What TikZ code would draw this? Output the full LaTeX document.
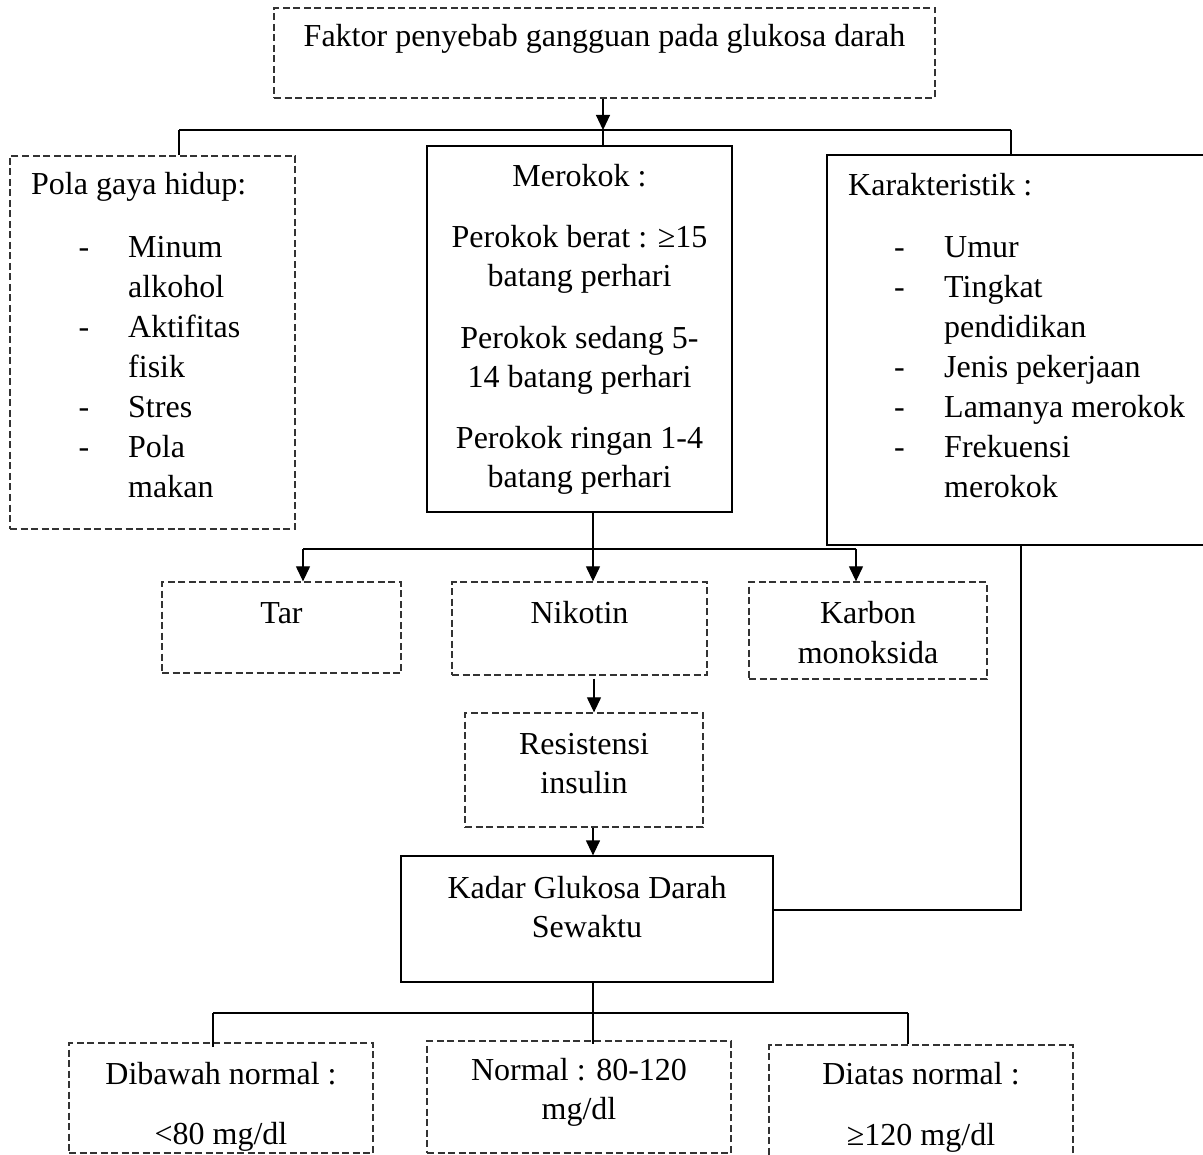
\documentclass[tikz,border=0pt]{standalone}
\usepackage{fontspec}
\setmainfont{Liberation Serif}
\usetikzlibrary{arrows.meta}
\newcommand{\mybox}[6]{\node[#2, minimum width={(#5-#3)*1pt}, minimum height={(#6-#4)*1pt}] (#1) at ({(#3+#5)/2},{(#4+#6)/2}) {};}
\begin{document}
\begin{tikzpicture}[x=1pt,y=-1pt,
  font=\fontsize{32}{40}\selectfont,
  dbox/.style={draw=black!80, dash pattern=on 7pt off 3.5pt, line width=1.3pt, inner sep=0},
  sbox/.style={draw=black, line width=1.2pt, inner sep=0},
  ln/.style={draw=black, line width=1.2pt},
  arr/.style={ln, -{Triangle[width=14pt,length=15pt]}},
  tx/.style={inner sep=0, anchor=base},
  txl/.style={inner sep=0, anchor=base west}]
\useasboundingbox (0,0) rectangle (1203,1155);
\clip (0,0) rectangle (1203,1155);
\fill[white] (0,0) rectangle (1203,1155);
% boxes
\mybox{top}{dbox}{274}{8}{935}{98}
\mybox{pola}{dbox}{10}{156}{295}{529}
\mybox{mer}{sbox}{427}{146}{732}{512}
\mybox{kar}{sbox}{827}{155}{1230}{545}
\mybox{tar}{dbox}{162}{582}{401}{673}
\mybox{nik}{dbox}{452}{582}{707}{675}
\mybox{kmo}{dbox}{749}{582}{987}{679}
\mybox{res}{dbox}{465}{713}{703}{827}
\mybox{kad}{sbox}{401}{856}{773}{982}
\mybox{dib}{dbox}{69}{1043}{373}{1153}
\mybox{nor}{dbox}{427}{1041}{731}{1153}
\mybox{dia}{dbox}{769}{1045}{1073}{1185}
% connectors top
\coordinate (j1) at (603,130);
\coordinate (jl) at (179,130);
\coordinate (jr) at (1011,130);
\draw[arr] (top.south -| j1) -- (j1);
\draw[ln] (jl) -- (jr);
\draw[ln] (jl) -- (jl |- pola.north);
\draw[ln] (j1) -- (j1 |- mer.north);
\draw[ln] (jr) -- (jr |- kar.north);
% connectors middle
\coordinate (j2) at (593,549);
\coordinate (j2l) at (303,549);
\coordinate (j2r) at (856,549);
\draw[ln] (mer.south -| j2) -- (j2);
\draw[ln] (j2l) -- (j2r);
\draw[arr] (j2l) -- (j2l |- tar.north);
\draw[arr] (j2) -- (j2 |- nik.north);
\draw[arr] (j2r) -- (j2r |- kmo.north);
\draw[arr] ([xshift=14.5pt,yshift=-3pt]nik.south) -- ([xshift=14.5pt]nik.south |- res.north);
\draw[arr] ([xshift=9pt]res.south) -- ([xshift=9pt]res.south |- kad.north);
\coordinate (kr) at (1021,910);
\draw[ln] (kad.east |- kr) -- (kr) -- (kr |- kar.south);
% connectors bottom
\coordinate (j3) at (593,1013);
\coordinate (j3l) at (213,1013);
\coordinate (j3r) at (908,1013);
\draw[ln] (kad.south -| j3) -- (j3);
\draw[ln] (j3l) -- (j3r);
\draw[ln] (j3l) -- ([yshift=-5pt]j3l |- dib.north);
\draw[ln] (j3) -- ([yshift=-4pt]j3 |- nor.north);
\draw[ln] (j3r) -- (j3r |- dia.north);
% texts
\node[tx] (t0) at (604.5,47) {Faktor penyebab gangguan pada glukosa darah};
\node[txl] (p0) at (31,195) {Pola gaya hidup:};
\node[tx] (pd1) at (84,258) {-};
\node[tx] (pd2) at (84,338) {-};
\node[tx] (pd3) at (84,418) {-};
\node[tx] (pd4) at (84,458) {-};
\node[txl] (p1) at (128,258) {Minum};
\node[txl] (p2) at (128,298) {alkohol};
\node[txl] (p3) at (128,338) {Aktifitas};
\node[txl] (p4) at (128,378) {fisik};
\node[txl] (p5) at (128,418) {Stres};
\node[txl] (p6) at (128,458) {Pola};
\node[txl] (p7) at (128,498) {makan};
\node[tx] (m0) at (579.5,187) {Merokok :};
\node[tx] (m1) at (579.5,248) {Perokok berat : ≥15};
\node[tx] (m2) at (579.5,287) {batang perhari};
\node[tx] (m3) at (579.5,349) {Perokok sedang 5-};
\node[tx] (m4) at (579.5,388) {14 batang perhari};
\node[tx] (m5) at (579.5,449) {Perokok ringan 1-4};
\node[tx] (m6) at (579.5,488) {batang perhari};
\node[txl] (k0) at (848,196) {Karakteristik :};
\node[tx] (kd1) at (899.5,258) {-};
\node[tx] (kd2) at (899.5,298) {-};
\node[tx] (kd3) at (899.5,378) {-};
\node[tx] (kd4) at (899.5,418) {-};
\node[tx] (kd5) at (899.5,458) {-};
\node[txl] (k1) at (944,258) {Umur};
\node[txl] (k2) at (944,298) {Tingkat};
\node[txl] (k3) at (944,338) {pendidikan};
\node[txl] (k4) at (944,378) {Jenis pekerjaan};
\node[txl] (k5) at (944,418) {Lamanya merokok};
\node[txl] (k6) at (944,458) {Frekuensi};
\node[txl] (k7) at (944,498) {merokok};
\node[tx] (tt) at (281.5,623) {Tar};
\node[tx] (nt) at (579.5,623) {Nikotin};
\node[tx] (kt1) at (868,623) {Karbon};
\node[tx] (kt2) at (868,663) {monoksida};
\node[tx] (rt1) at (584,754) {Resistensi};
\node[tx] (rt2) at (584,793) {insulin};
\node[tx] (gt1) at (587,898) {Kadar Glukosa Darah};
\node[tx] (gt2) at (587,937) {Sewaktu};
\node[tx] (bt1) at (221,1084) {Dibawah normal :};
\node[tx] (bt2) at (221,1144) {<80 mg/dl};
\node[tx] (nt1) at (579,1080) {Normal : 80-120};
\node[tx] (nt2) at (579,1119) {mg/dl};
\node[tx] (dt1) at (921,1084) {Diatas normal :};
\node[tx] (dt2) at (921,1145) {≥120 mg/dl};
\end{tikzpicture}
\end{document}
